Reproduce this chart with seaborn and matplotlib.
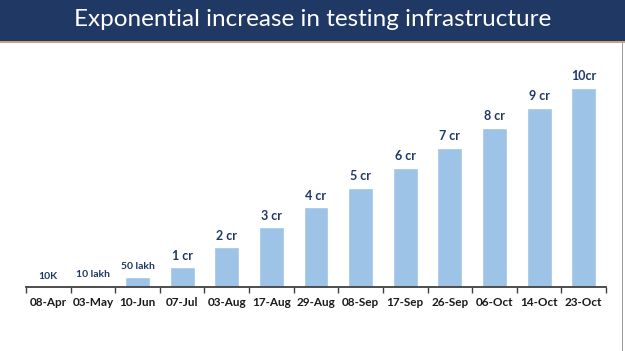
import numpy as np
import pandas as pd
import matplotlib
matplotlib.use("Agg")
import matplotlib.pyplot as plt
from matplotlib.patches import Rectangle
import seaborn as sns

dates = ['08-Apr', '03-May', '10-Jun', '07-Jul', '03-Aug', '17-Aug', '29-Aug',
         '08-Sep', '17-Sep', '26-Sep', '06-Oct', '14-Oct', '23-Oct']
tests_cr = [0.001, 0.1, 0.5, 1, 2, 3, 4, 5, 6, 7, 8, 9, 10]
labels = ['10K', '10 lakh', '50 lakh', '1 cr', '2 cr', '3 cr', '4 cr',
          '5 cr', '6 cr', '7 cr', '8 cr', '9 cr', '10cr']

sns.set_style("white")
plt.rcParams['font.family'] = ['Lato', 'DejaVu Sans']

df = pd.DataFrame({'date': dates, 'tests': tests_cr})

fig = plt.figure(figsize=(6.25, 3.51), dpi=100)
W, H = 625, 351

# header band
fig.patches.append(Rectangle((0, 1 - 41 / H), 1, 41 / H, transform=fig.transFigure,
                             facecolor='#203864', edgecolor='none', zorder=0))
fig.patches.append(Rectangle((0, 1 - 43 / H), 1, 2 / H, transform=fig.transFigure,
                             facecolor='#c9a27a', edgecolor='none', zorder=0))
fig.patches.append(Rectangle((622 / W, 0), 1 / W, 1 - 43 / H, transform=fig.transFigure,
                             facecolor='#9a9a9a', edgecolor='none', zorder=0))
fig.text(0.5, 1 - 20 / H, 'Exponential increase in testing infrastructure',
         color='white', fontsize=17.5, ha='center', va='center')

ax = fig.add_axes([26 / W, (H - 287) / H, 580 / W, 227 / H])
sns.barplot(data=df, x='date', y='tests', color='#9dc3e6', saturation=1,
            width=0.56, ax=ax)
ax.set_ylim(0, 10 * 227 / 199)
ax.set_xlim(-0.5, 12.5)

texts = ax.bar_label(ax.containers[0], labels=labels, padding=4,
                     color='#1f3864', fontweight='bold', fontsize=9)
for t, lab in zip(texts, labels):
    if 'lakh' in lab or lab == '10K':
        t.set_fontsize(7.5)

ax.set(xlabel='', ylabel='')
ax.set_yticks([])
for s in ['top', 'right', 'left']:
    ax.spines[s].set_visible(False)
ax.spines['bottom'].set_color('#404040')
ax.spines['bottom'].set_linewidth(1.3)
ax.set_xticks(np.arange(-0.5, 13, 1), minor=True)
ax.tick_params(axis='x', which='minor', bottom=True, length=4, width=1,
               color='#404040', direction='out')
ax.tick_params(axis='x', which='major', bottom=False, length=0, pad=7,
               labelsize=8.5, labelcolor='#1a1a1a')
for t in ax.get_xticklabels():
    t.set_fontweight('bold')

fig.savefig('out.png', dpi=100)
